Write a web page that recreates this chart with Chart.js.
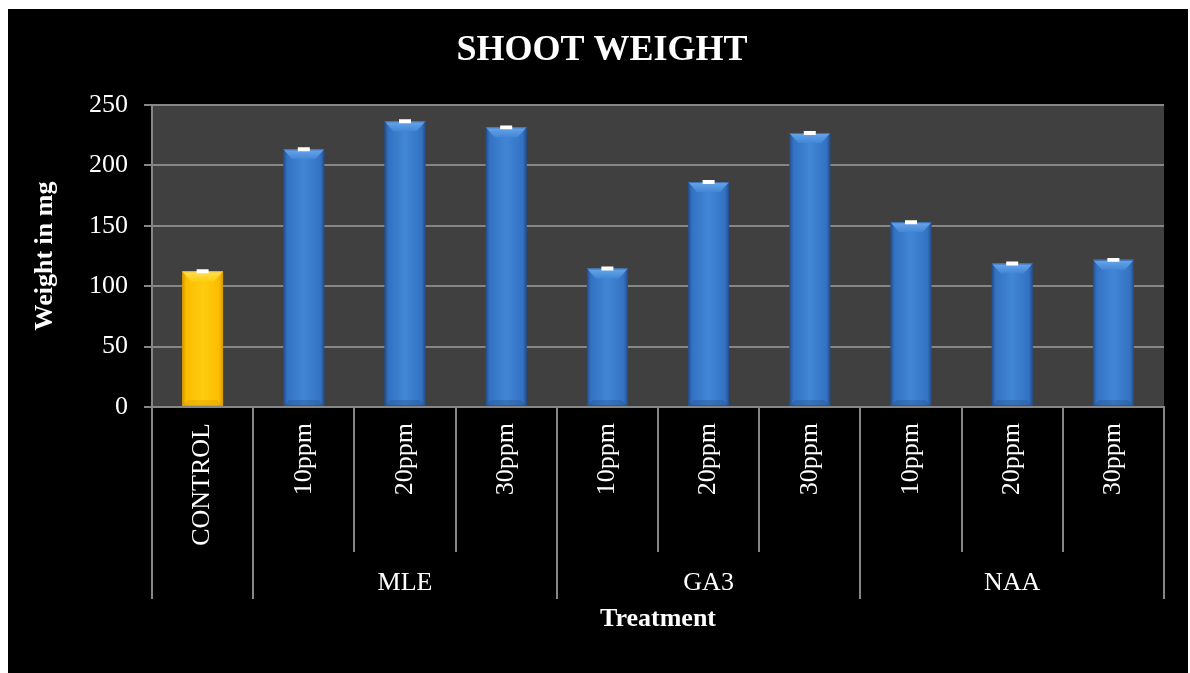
<!DOCTYPE html>
<html>
<head>
<meta charset="utf-8">
<title>Shoot Weight</title>
<script src="https://cdn.jsdelivr.net/npm/chart.js@4/dist/chart.umd.min.js"></script>
<style>
  html, body { margin: 0; padding: 0; background: #ffffff; overflow: hidden; }
  #frame { position: absolute; left: 8px; top: 9px; width: 1180px; height: 664px; background: #000000; }
  #wrap { position: absolute; left: 0px; top: 9px; width: 1204px; height: 664px; }
</style>
</head>
<body>
<div id="frame"></div>
<div id="wrap"><canvas id="chart"></canvas></div>
<script>
// Treatment levels along the x axis
const categories = ['CONTROL', '10ppm', '20ppm', '30ppm', '10ppm', '20ppm', '30ppm', '10ppm', '20ppm', '30ppm'];
// Treatment groups and how many levels each one spans
const groupNames = ['', 'MLE', 'GA3', 'NAA'];
const groupSizes = [1, 3, 3, 3];
// Mean shoot weight (mg) and its standard error
const shootWeight = [112.4, 213.3, 236.5, 231.5, 114.6, 186.2, 226.8, 153.0, 118.8, 121.8];
const shootError = [0.8, 0.8, 0.8, 0.8, 0.8, 0.8, 0.8, 0.8, 0.8, 0.8];
// Y axis ticks
const yTicks = [0, 50, 100, 150, 200, 250];

const SERIF = "'Liberation Serif', 'Times New Roman', serif";
const GRID = '#868686';

const palette = {
  control: { dark: '#d69a00', mid: '#fbbd00', light: '#ffcc10', top: '#ffe15a' },
  treated: { dark: '#23508f', mid: '#3472c2', light: '#4186d6', top: '#6aa6ea' }
};
function paletteFor(i) { return i === 0 ? palette.control : palette.treated; }

// Horizontal shading across each bar for a rounded, bevelled look
function barFill(ctx) {
  const chart = ctx.chart;
  const p = paletteFor(ctx.dataIndex);
  const xs = chart.scales && chart.scales.x;
  if (!chart.chartArea || !xs) return p.mid;
  const cx = xs.getPixelForValue(ctx.dataIndex);
  const half = (xs.width / categories.length) * 0.405 / 2;
  const g = chart.ctx.createLinearGradient(cx - half, 0, cx + half, 0);
  g.addColorStop(0, p.dark);
  g.addColorStop(0.1, p.mid);
  g.addColorStop(0.5, p.light);
  g.addColorStop(0.9, p.mid);
  g.addColorStop(1, p.dark);
  return g;
}

const plotBackground = {
  id: 'plotBackground',
  beforeDraw(chart) {
    const { ctx, chartArea: a } = chart;
    ctx.save();
    ctx.fillStyle = '#404040';
    ctx.fillRect(a.left, a.top, a.right - a.left, a.bottom - a.top);
    ctx.restore();
  }
};

// Light bevel on the top face and darker bottom edge of each bar
const barBevel = {
  id: 'barBevel',
  afterDatasetsDraw(chart) {
    const ctx = chart.ctx;
    const meta = chart.getDatasetMeta(0);
    meta.data.forEach((bar, i) => {
      const p = paletteFor(i);
      const l = bar.x - bar.width / 2, r = bar.x + bar.width / 2;
      const t = bar.y, b = bar.base;
      const bw = 9, bh = 10;
      ctx.save();
      const tg = ctx.createLinearGradient(0, t, 0, t + bh);
      tg.addColorStop(0, p.top);
      tg.addColorStop(1, p.light);
      ctx.fillStyle = tg;
      ctx.beginPath();
      ctx.moveTo(l, t); ctx.lineTo(r, t); ctx.lineTo(r - bw, t + bh); ctx.lineTo(l + bw, t + bh);
      ctx.closePath(); ctx.fill();
      ctx.globalAlpha = 0.35;
      ctx.fillStyle = p.dark;
      ctx.beginPath();
      ctx.moveTo(l, b); ctx.lineTo(r, b); ctx.lineTo(r - 6, b - 6); ctx.lineTo(l + 6, b - 6);
      ctx.closePath(); ctx.fill();
      ctx.globalAlpha = 0.6;
      ctx.strokeStyle = p.dark;
      ctx.lineWidth = 1;
      ctx.strokeRect(l + 0.5, t + 0.5, r - l - 1, b - t - 1);
      ctx.restore();
    });
  }
};

// Standard error bars with caps
const errorBars = {
  id: 'errorBars',
  afterDatasetsDraw(chart) {
    const ctx = chart.ctx;
    const ys = chart.scales.y;
    const meta = chart.getDatasetMeta(0);
    ctx.save();
    ctx.strokeStyle = '#ffffff';
    ctx.lineWidth = 2;
    meta.data.forEach((bar, i) => {
      const hi = ys.getPixelForValue(shootWeight[i] + shootError[i]);
      const lo = ys.getPixelForValue(shootWeight[i] - shootError[i]);
      const cap = 6;
      ctx.beginPath();
      ctx.moveTo(bar.x, hi); ctx.lineTo(bar.x, lo);
      ctx.moveTo(bar.x - cap, hi); ctx.lineTo(bar.x + cap, hi);
      ctx.moveTo(bar.x - cap, lo); ctx.lineTo(bar.x + cap, lo);
      ctx.stroke();
    });
    ctx.restore();
  }
};

// Two-level category axis: divider lines and group names
const groupAxis = {
  id: 'groupAxis',
  afterDraw(chart) {
    const { ctx, chartArea: a } = chart;
    const xs = chart.scales.x;
    const n = categories.length;
    const step = (a.right - a.left) / n;
    const edge = k => a.left + k * step;
    const starts = [0];
    groupSizes.forEach(s => starts.push(starts[starts.length - 1] + s));
    ctx.save();
    ctx.strokeStyle = GRID;
    ctx.lineWidth = 2;
    for (let k = 0; k <= n; k++) {
      const long = starts.includes(k);
      const x = Math.round(edge(k));
      ctx.beginPath();
      ctx.moveTo(x, a.bottom);
      ctx.lineTo(x, a.bottom + (long ? 192 : 145));
      ctx.stroke();
    }
    ctx.fillStyle = '#ffffff';
    ctx.font = '26px ' + SERIF;
    ctx.textAlign = 'center';
    ctx.textBaseline = 'middle';
    groupNames.forEach((name, g) => {
      if (!name) return;
      const cx = (xs.getPixelForValue(starts[g]) + xs.getPixelForValue(starts[g + 1] - 1)) / 2;
      ctx.fillText(name, cx, a.bottom + 176);
    });
    ctx.restore();
  }
};

new Chart(document.getElementById('chart'), {
  type: 'bar',
  data: {
    labels: categories,
    datasets: [{
      label: 'Shoot weight',
      data: shootWeight,
      backgroundColor: barFill,
      borderWidth: 0,
      barPercentage: 0.405,
      categoryPercentage: 1
    }]
  },
  options: {
    responsive: true,
    maintainAspectRatio: false,
    animation: false,
    layout: { padding: { left: 40, right: 40, top: 0, bottom: 0 } },
    plugins: {
      legend: { display: false },
      tooltip: { enabled: false },
      title: {
        display: true,
        text: 'SHOOT WEIGHT',
        color: '#ffffff',
        font: { family: SERIF, size: 36, weight: 'bold', lineHeight: 1.2 },
        padding: { top: 20.4, bottom: 32.4 }
      }
    },
    scales: {
      x: {
        offset: true,
        grid: { display: true, drawOnChartArea: false, drawTicks: false, color: GRID, lineWidth: 2 },
        border: { display: true, color: GRID, width: 2 },
        ticks: {
          autoSkip: false,
          minRotation: 90,
          maxRotation: 90,
          padding: 16,
          color: '#ffffff',
          font: { family: SERIF, size: 26 }
        },
        title: {
          display: true,
          text: 'Treatment',
          color: '#ffffff',
          font: { family: SERIF, size: 26, weight: 'bold', lineHeight: 1.2 },
          padding: { top: 0, bottom: 38.4 }
        },
        afterFit(s) { s.height = 266; }
      },
      y: {
        min: 0,
        max: 250,
        afterBuildTicks(s) { s.ticks = yTicks.map(v => ({ value: v })); },
        grid: { color: GRID, lineWidth: 2, tickLength: 8, drawTicks: true },
        border: { display: true, color: GRID, width: 2 },
        ticks: {
          padding: 16,
          color: '#ffffff',
          font: { family: SERIF, size: 26 }
        },
        title: {
          display: true,
          text: 'Weight in mg',
          color: '#ffffff',
          font: { family: SERIF, size: 26, weight: 'bold', lineHeight: 1.2 },
          padding: { top: -10.6, bottom: 0 }
        },
        afterFit(s) { s.width = 112; }
      }
    }
  },
  plugins: [plotBackground, barBevel, errorBars, groupAxis]
});
</script>
</body>
</html>
